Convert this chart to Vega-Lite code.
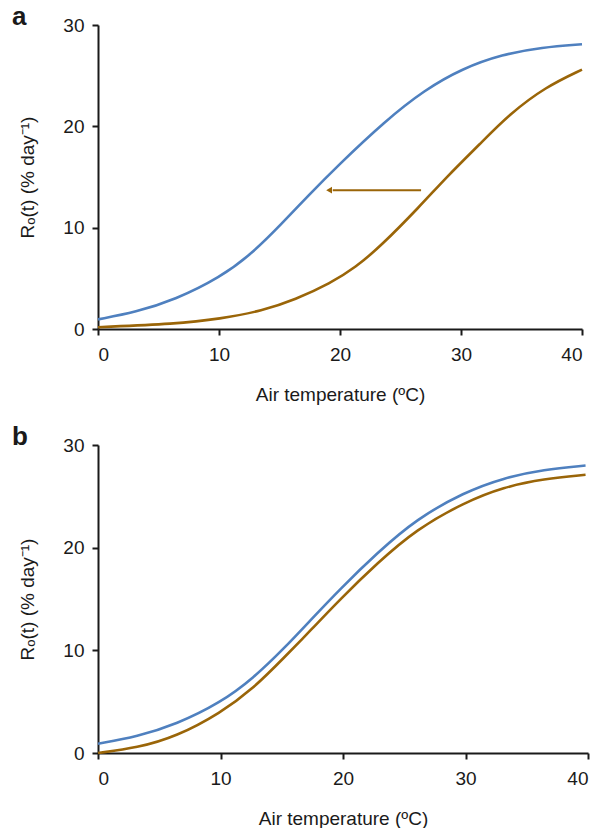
{
  "$schema": "https://vega.github.io/schema/vega-lite/v6.json",
  "background": "white",
  "padding": {"left": 12, "top": 4, "right": 5, "bottom": 0},
  "config": {
    "font": "Liberation Sans",
    "view": {"stroke": null},
    "axis": {
      "grid": false,
      "domainColor": "#1a1a1a",
      "domainWidth": 2,
      "tickColor": "#1a1a1a",
      "tickWidth": 2,
      "tickSize": 6,
      "labelFont": "Liberation Sans",
      "labelFontSize": 19,
      "labelColor": "#1a1a1a",
      "titleFont": "Liberation Sans",
      "titleFontSize": 19,
      "titleFontWeight": "normal",
      "titleColor": "#1a1a1a"
    },
    "title": {"font": "Liberation Sans", "fontSize": 26, "fontWeight": "bold", "anchor": "start", "frame": "group", "color": "#1a1a1a"}
  },
  "datasets": {
    "curves": [
      {"panel": "a", "series": "blue", "T": 0, "R": 0.95},
      {"panel": "a", "series": "blue", "T": 3.1, "R": 1.66},
      {"panel": "a", "series": "blue", "T": 6.4, "R": 2.9},
      {"panel": "a", "series": "blue", "T": 10.1, "R": 5.1},
      {"panel": "a", "series": "blue", "T": 12.7, "R": 7.4},
      {"panel": "a", "series": "blue", "T": 15.2, "R": 10.4},
      {"panel": "a", "series": "blue", "T": 17.4, "R": 13.2},
      {"panel": "a", "series": "blue", "T": 19.8, "R": 16.1},
      {"panel": "a", "series": "blue", "T": 23.7, "R": 20.5},
      {"panel": "a", "series": "blue", "T": 27.0, "R": 23.6},
      {"panel": "a", "series": "blue", "T": 30.1, "R": 25.7},
      {"panel": "a", "series": "blue", "T": 33.4, "R": 27.1},
      {"panel": "a", "series": "blue", "T": 36.7, "R": 27.8},
      {"panel": "a", "series": "blue", "T": 40.0, "R": 28.1},
      {"panel": "a", "series": "brown", "T": 0, "R": 0.18},
      {"panel": "a", "series": "brown", "T": 6.4, "R": 0.5},
      {"panel": "a", "series": "brown", "T": 10.1, "R": 1.0},
      {"panel": "a", "series": "brown", "T": 13.6, "R": 1.8},
      {"panel": "a", "series": "brown", "T": 16.3, "R": 2.9},
      {"panel": "a", "series": "brown", "T": 19.2, "R": 4.5},
      {"panel": "a", "series": "brown", "T": 21.3, "R": 6.1},
      {"panel": "a", "series": "brown", "T": 23.3, "R": 8.1},
      {"panel": "a", "series": "brown", "T": 26.6, "R": 12.1},
      {"panel": "a", "series": "brown", "T": 28.8, "R": 15.0},
      {"panel": "a", "series": "brown", "T": 31.6, "R": 18.3},
      {"panel": "a", "series": "brown", "T": 34.0, "R": 21.2},
      {"panel": "a", "series": "brown", "T": 37.0, "R": 23.9},
      {"panel": "a", "series": "brown", "T": 40.0, "R": 25.6},
      {"panel": "b", "series": "blue", "T": 0, "R": 0.9},
      {"panel": "b", "series": "blue", "T": 3.2, "R": 1.6},
      {"panel": "b", "series": "blue", "T": 6.4, "R": 2.8},
      {"panel": "b", "series": "blue", "T": 10.0, "R": 4.9},
      {"panel": "b", "series": "blue", "T": 12.7, "R": 7.3},
      {"panel": "b", "series": "blue", "T": 15.2, "R": 10.2},
      {"panel": "b", "series": "blue", "T": 17.4, "R": 13.0},
      {"panel": "b", "series": "blue", "T": 19.7, "R": 15.9},
      {"panel": "b", "series": "blue", "T": 22.8, "R": 19.5},
      {"panel": "b", "series": "blue", "T": 26.0, "R": 22.8},
      {"panel": "b", "series": "blue", "T": 29.9, "R": 25.4},
      {"panel": "b", "series": "blue", "T": 33.1, "R": 26.8},
      {"panel": "b", "series": "blue", "T": 36.4, "R": 27.6},
      {"panel": "b", "series": "blue", "T": 39.8, "R": 28.0},
      {"panel": "b", "series": "brown", "T": 0, "R": 0.0},
      {"panel": "b", "series": "brown", "T": 3.2, "R": 0.5},
      {"panel": "b", "series": "brown", "T": 6.4, "R": 1.6},
      {"panel": "b", "series": "brown", "T": 10.0, "R": 3.9},
      {"panel": "b", "series": "brown", "T": 12.7, "R": 6.3},
      {"panel": "b", "series": "brown", "T": 15.2, "R": 9.3},
      {"panel": "b", "series": "brown", "T": 17.4, "R": 12.0},
      {"panel": "b", "series": "brown", "T": 19.7, "R": 14.9},
      {"panel": "b", "series": "brown", "T": 22.8, "R": 18.5},
      {"panel": "b", "series": "brown", "T": 26.0, "R": 21.8},
      {"panel": "b", "series": "brown", "T": 29.9, "R": 24.4},
      {"panel": "b", "series": "brown", "T": 33.1, "R": 25.9},
      {"panel": "b", "series": "brown", "T": 36.4, "R": 26.7},
      {"panel": "b", "series": "brown", "T": 39.8, "R": 27.1}
    ],
    "arrow": [
      {"T1": 26.7, "T2": 19.4, "Thead": 19.1, "R": 13.7}
    ]
  },
  "spacing": 20,
  "vconcat": [
    {
      "title": {"text": "a", "dx": -86, "dy": 14, "offset": 0},
      "width": 484,
      "height": 304,
      "layer": [
        {
          "data": {"name": "curves"},
          "transform": [{"filter": "datum.panel === 'a'"}],
          "mark": {"type": "line", "strokeWidth": 2.6, "interpolate": "basis"},
          "encoding": {
            "x": {"field": "T", "type": "quantitative", "scale": {"domain": [0, 40], "nice": false, "zero": false}, "axis": {"values": [0, 10, 20, 30, 40], "title": "Air temperature (ºC)", "titlePadding": 21, "labelPadding": 10}},
            "y": {"field": "R", "type": "quantitative", "scale": {"domain": [0, 30], "nice": false}, "axis": {"values": [0, 10, 20, 30], "title": "Rₒ(t) (% day⁻¹)", "titlePadding": 25, "labelPadding": 8}},
            "color": {"field": "series", "type": "nominal", "scale": {"domain": ["blue", "brown"], "range": ["#4F80BF", "#9A6508"]}, "legend": null}
          }
        },
        {
          "data": {"name": "arrow"},
          "mark": {"type": "rule", "color": "#9A6508", "strokeWidth": 2},
          "encoding": {
            "x": {"field": "T1", "type": "quantitative"},
            "x2": {"field": "T2"},
            "y": {"field": "R", "type": "quantitative"}
          }
        },
        {
          "data": {"name": "arrow"},
          "mark": {"type": "point", "shape": "triangle-left", "filled": true, "color": "#9A6508", "size": 45, "opacity": 1},
          "encoding": {
            "x": {"field": "Thead", "type": "quantitative"},
            "y": {"field": "R", "type": "quantitative"}
          }
        }
      ]
    },
    {
      "title": {"text": "b", "dx": -86, "dy": 14, "offset": 0},
      "width": 490,
      "height": 308,
      "layer": [
        {
          "data": {"name": "curves"},
          "transform": [{"filter": "datum.panel === 'b'"}],
          "mark": {"type": "line", "strokeWidth": 2.6, "interpolate": "basis"},
          "encoding": {
            "x": {"field": "T", "type": "quantitative", "scale": {"domain": [0, 40], "nice": false, "zero": false}, "axis": {"values": [0, 10, 20, 30, 40], "title": "Air temperature (ºC)", "titlePadding": 21, "labelPadding": 10}},
            "y": {"field": "R", "type": "quantitative", "scale": {"domain": [0, 30], "nice": false}, "axis": {"values": [0, 10, 20, 30], "title": "Rₒ(t) (% day⁻¹)", "titlePadding": 25, "labelPadding": 8}},
            "color": {"field": "series", "type": "nominal", "scale": {"domain": ["blue", "brown"], "range": ["#4F80BF", "#9A6508"]}, "legend": null}
          }
        }
      ]
    }
  ]
}
